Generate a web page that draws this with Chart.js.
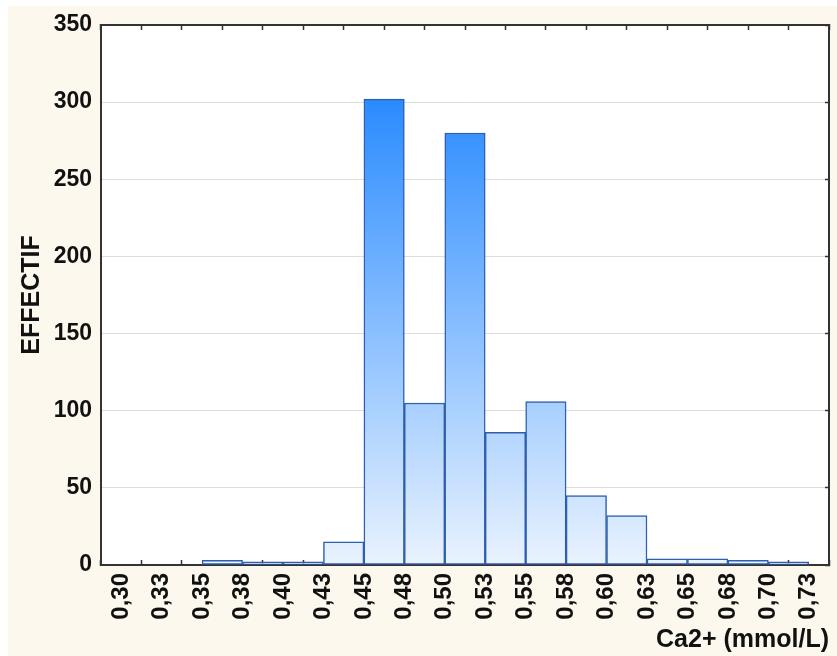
<!DOCTYPE html>
<html>
<head>
<meta charset="utf-8">
<script src="https://cdn.jsdelivr.net/npm/chart.js@4/dist/chart.umd.min.js"></script>
<style>
  html, body { margin: 0; padding: 0; background: #ffffff; }
  #fond { position: absolute; left: 8px; top: 6px; width: 829px; height: 650px; background: #fdf8ee; }
  #histo { position: absolute; left: 0; top: 0; }
</style>
</head>
<body>
<div id="fond"></div>
<canvas id="histo" width="837" height="656"></canvas>
<script>
// bornes des classes (mmol/L) et libellés affichés sous l'axe
const bornes = [0.300, 0.325, 0.350, 0.375, 0.400, 0.425, 0.450, 0.475, 0.500,
                0.525, 0.550, 0.575, 0.600, 0.625, 0.650, 0.675, 0.700, 0.725];
const libellesX = ['0,30', '0,33', '0,35', '0,38', '0,40', '0,43', '0,45', '0,48', '0,50',
                   '0,53', '0,55', '0,58', '0,60', '0,63', '0,65', '0,68', '0,70', '0,73'];
// effectif de chaque classe
const effectifs = [0, 0, 3, 2, 2, 15, 302, 105, 280, 86, 106, 45, 32, 4, 4, 3, 2];
const graduationsY = [0, 50, 100, 150, 200, 250, 300, 350];

const POLICE = "'Liberation Sans', Arial, sans-serif";
const pas = bornes[1] - bornes[0];

// une barre par classe, centrée entre ses deux bornes
const points = effectifs.map((n, i) => ({ x: (bornes[i] + bornes[i + 1]) / 2, y: n }));

function tickX(scale) {
    scale.ticks = bornes.map(v => ({ value: v }));
}

// dégradé bleu : foncé en haut, presque blanc sur l'axe
function degrade(ctx) {
    const chart = ctx.chart;
    if (!chart.chartArea) return '#9cc8fb';
    const y = chart.scales.y;
    const g = chart.ctx.createLinearGradient(0, y.getPixelForValue(Math.max(...effectifs)), 0, y.getPixelForValue(0));
    g.addColorStop(0, '#2a8bff');
    g.addColorStop(1, '#eaf3fe');
    return g;
}

// fond blanc de la zone de tracé
const fondBlanc = {
    id: 'fondBlanc',
    beforeDraw(chart) {
        const a = chart.chartArea;
        chart.ctx.save();
        chart.ctx.fillStyle = '#ffffff';
        chart.ctx.fillRect(a.left, a.top, a.right - a.left, a.bottom - a.top);
        chart.ctx.restore();
    }
};

new Chart(document.getElementById('histo'), {
    type: 'bar',
    data: {
        datasets: [{
            data: points,
            backgroundColor: degrade,
            borderColor: '#2e5fae',
            borderWidth: 1.5,
            borderSkipped: false,
            barPercentage: 1,
            categoryPercentage: 1
        }]
    },
    options: {
        responsive: false,
        animation: false,
        layout: { padding: { top: 25, right: 8, left: 0, bottom: 0 } },
        plugins: { legend: { display: false }, tooltip: { enabled: false } },
        scales: {
            x: {
                type: 'linear',
                position: 'bottom',
                offset: false,
                min: bornes[0] - pas / 2,
                max: bornes[bornes.length - 1] + pas / 2,
                afterBuildTicks: tickX,
                afterFit: s => { s.height = 91; s.paddingLeft = 0; s.paddingRight = 0; },
                grid: { drawOnChartArea: false, tickLength: -5, color: '#333333', tickWidth: 1.5 },
                border: { color: '#333333', width: 2 },
                ticks: {
                    minRotation: 90, maxRotation: 90,
                    padding: 13,
                    color: '#111111',
                    font: { family: POLICE, size: 24, weight: 'bold' },
                    callback: (v, i) => libellesX[i]
                },
                title: {
                    display: true, text: 'Ca2+ (mmol/L)', align: 'end',
                    color: '#111111',
                    padding: { top: 0, bottom: 1 },
                    font: { family: POLICE, size: 25, weight: 'bold' }
                }
            },
            x2: {
                type: 'linear',
                position: 'top',
                offset: false,
                min: bornes[0] - pas / 2,
                max: bornes[bornes.length - 1] + pas / 2,
                afterBuildTicks: tickX,
                afterFit: s => { s.height = 0; s.paddingLeft = 0; s.paddingRight = 0; },
                grid: { drawOnChartArea: false, tickLength: -5, color: '#333333', tickWidth: 1.5 },
                border: { color: '#333333', width: 2 },
                ticks: { display: false }
            },
            y: {
                position: 'left',
                min: 0, max: 350,
                afterBuildTicks: s => { s.ticks = graduationsY.map(v => ({ value: v })); },
                afterFit: s => { s.width = 101; s.paddingTop = 0; s.paddingBottom = 0; },
                grid: { color: '#dddddd', drawTicks: false },
                border: { color: '#333333', width: 2 },
                ticks: {
                    padding: 9,
                    color: '#111111',
                    font: { family: POLICE, size: 23, weight: 'bold' }
                },
                title: {
                    display: true, text: 'EFFECTIF',
                    color: '#111111',
                    padding: { top: 17, bottom: 0 },
                    font: { family: POLICE, size: 25, weight: 'bold' }
                }
            },
            y2: {
                position: 'right',
                min: 0, max: 350,
                afterBuildTicks: s => { s.ticks = graduationsY.map(v => ({ value: v })); },
                afterFit: s => { s.width = 0; s.paddingTop = 0; s.paddingBottom = 0; },
                grid: { drawOnChartArea: false, tickLength: -4, color: '#333333', tickWidth: 1.5 },
                border: { color: '#333333', width: 2 },
                ticks: { display: false }
            }
        }
    },
    plugins: [fondBlanc]
});
</script>
</body>
</html>
